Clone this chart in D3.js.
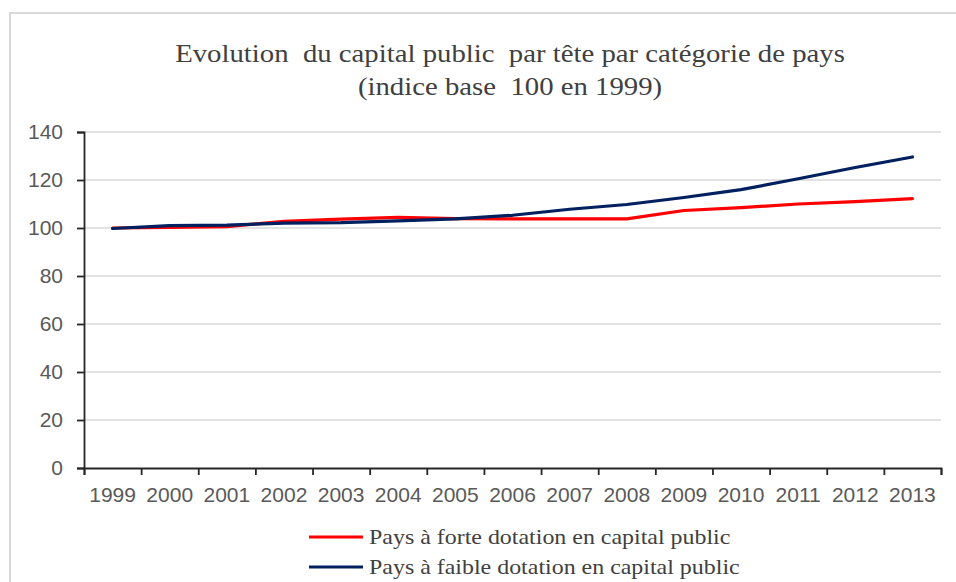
<!DOCTYPE html>
<html>
<head>
<meta charset="utf-8">
<script src="https://cdn.jsdelivr.net/npm/d3@7"></script>
<style>
  html, body { margin: 0; padding: 0; background: #fff; }
  svg { display: block; }
</style>
</head>
<body>
<script>
const years = ["1999","2000","2001","2002","2003","2004","2005","2006","2007","2008","2009","2010","2011","2012","2013"];
const forte = [100, 100.3, 100.6, 102.8, 103.7, 104.4, 103.9, 103.8, 103.8, 103.8, 107.3, 108.5, 110, 111, 112.2];
const faible = [99.8, 101, 101.2, 102, 102.2, 103, 103.8, 105.3, 107.8, 109.8, 112.7, 116, 120.5, 125.2, 129.6];
const yTicks = [0, 20, 40, 60, 80, 100, 120, 140];
const titleLines = ["Evolution  du capital public  par tête par catégorie de pays", "(indice base  100 en 1999)"];
const legendLabels = ["Pays à forte dotation en capital public", "Pays à faible dotation en capital public"];
const colors = ["#FF0000", "#002060"];

const W = 956, H = 582;
const mLeft = 84, mRight = 941, mTop = 132, mBottom = 468;

const svg = d3.select("body").append("svg").attr("width", W).attr("height", H);

// outer border
svg.append("rect").attr("x", 10).attr("y", 13).attr("width", W + 20).attr("height", H + 20)
  .attr("fill", "none").attr("stroke", "#d9d9d9").attr("stroke-width", 2);

const x = d3.scaleBand().domain(years).range([mLeft, mRight]).padding(0);
const xb = d3.scaleLinear().domain([0, years.length]).range([mLeft, mRight]);
const y = d3.scaleLinear().domain([0, 140]).range([mBottom, mTop]);

// gridlines
svg.append("g").selectAll("line").data(yTicks.filter(d => d > 0)).join("line")
  .attr("x1", mLeft).attr("x2", mRight)
  .attr("y1", d => y(d)).attr("y2", d => y(d))
  .attr("stroke", "#d9d9d9").attr("stroke-width", 1.5);

// y axis
const yAxis = svg.append("g").attr("transform", `translate(${mLeft},0)`)
  .call(d3.axisLeft(y).tickValues(yTicks).tickSize(7).tickPadding(14));
yAxis.select(".domain").attr("stroke", "#262626").attr("stroke-width", 1.8);
yAxis.selectAll(".tick line").attr("stroke", "#262626").attr("stroke-width", 1.8);
yAxis.selectAll(".tick text").attr("fill", "#595959")
  .style("font-family", "'Liberation Sans', Arial, sans-serif").style("font-size", "21px");

// x axis line and boundary ticks
const xAxisG = svg.append("g").attr("transform", `translate(0,${mBottom})`)
  .call(d3.axisBottom(xb).tickValues(d3.range(0, years.length + 1)).tickSize(7).tickFormat(""));
xAxisG.select(".domain").attr("stroke", "#262626").attr("stroke-width", 1.8);
xAxisG.selectAll(".tick line").attr("stroke", "#262626").attr("stroke-width", 1.8);

// x labels
const xLab = svg.append("g").attr("transform", `translate(0,${mBottom})`)
  .call(d3.axisBottom(x).tickSize(0).tickPadding(19));
xLab.select(".domain").remove();
xLab.selectAll(".tick text").attr("fill", "#595959")
  .style("font-family", "'Liberation Sans', Arial, sans-serif").style("font-size", "21px");

// lines
const line = d3.line().x((d, i) => x(years[i]) + x.bandwidth() / 2).y(d => y(d));
[forte, faible].forEach((s, k) => {
  svg.append("path").datum(s).attr("d", line)
    .attr("fill", "none").attr("stroke", colors[k]).attr("stroke-width", 3.2)
    .attr("stroke-linejoin", "round").attr("stroke-linecap", "round");
});

// title (horizontally stretched like the reference rendering)
svg.append("g").selectAll("text").data(titleLines).join("text")
  .attr("transform", (d, i) => `translate(510,${62 + i * 33}) scale(1.15,1)`)
  .attr("text-anchor", "middle")
  .style("white-space", "pre")
  .style("font-family", "'Liberation Serif', 'Times New Roman', serif")
  .style("font-size", "25px").attr("fill", "#404040")
  .text(d => d);

// legend
const leg = svg.append("g").selectAll("g").data(legendLabels).join("g")
  .attr("transform", (d, i) => `translate(309,${537 + i * 30})`);
leg.append("line").attr("x1", 0).attr("x2", 54).attr("y1", 0).attr("y2", 0)
  .attr("stroke", (d, i) => colors[i]).attr("stroke-width", 3.2);
leg.append("text").attr("transform", "translate(60,7) scale(1.14,1)")
  .style("font-family", "'Liberation Serif', 'Times New Roman', serif")
  .style("font-size", "21px").attr("fill", "#404040")
  .text(d => d);
</script>
</body>
</html>
